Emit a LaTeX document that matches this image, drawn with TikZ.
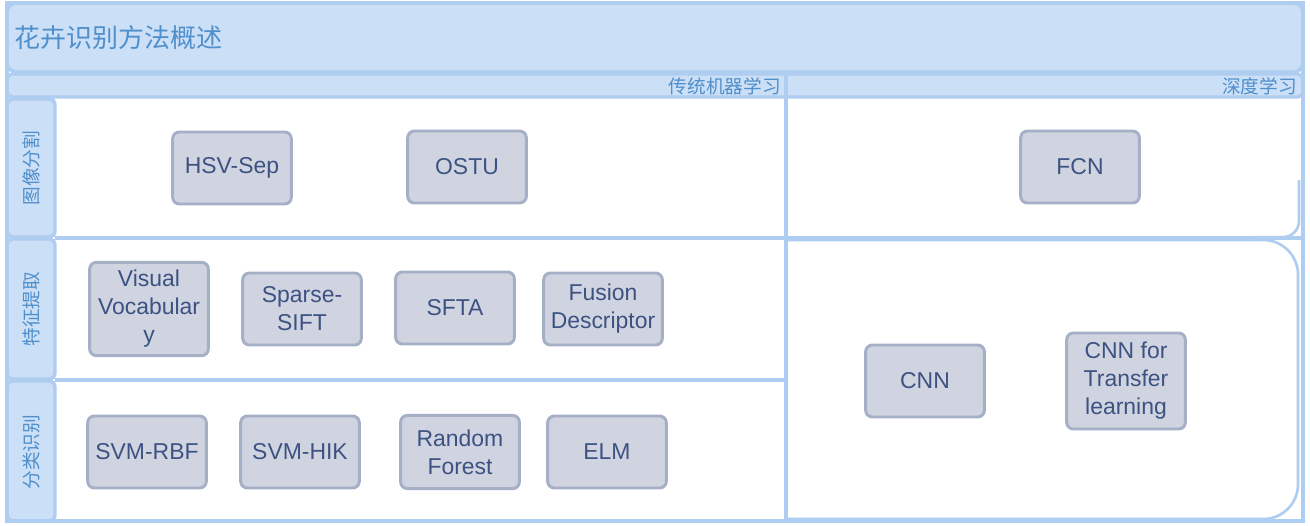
\documentclass[tikz,border=0pt]{standalone}
\usepackage{fontspec}
\setmainfont{Liberation Sans}
\newfontfamily\cjk{Noto Sans CJK SC}
\definecolor{bandfill}{HTML}{CBDFF6}
\definecolor{bandline}{HTML}{AECDF0}
\definecolor{titlecol}{HTML}{4F8FCC}
\definecolor{boxfill}{HTML}{D0D4E0}
\definecolor{boxline}{HTML}{A5AFC6}
\definecolor{boxtext}{HTML}{3C5282}
\begin{document}
\begin{tikzpicture}[x=0.75pt,y=-0.75pt,
  band/.style={draw=bandline,fill=bandfill,line width=2.6pt,rounded corners=4pt},
  sep/.style={draw=bandline,line width=2.6pt},
  item/.style={draw=boxline,fill=boxfill,line width=2.2pt,rounded corners=5pt,
    minimum width=89pt,minimum height=54pt,align=center,text=boxtext,
    font=\fontsize{17.2}{21}\selectfont,inner sep=1pt},
  hdr/.style={text=titlecol,font=\cjk\fontsize{14}{16}\selectfont,inner sep=0pt},
  rowlab/.style={text=titlecol,font=\cjk\fontsize{14}{16}\selectfont,rotate=90,inner sep=0pt}]
\useasboundingbox (0,0) rectangle (1310,525);
% bands
\path[band,rounded corners=7pt] (7,3) rectangle (1303,72);
\path[band] (7,74) rectangle (1303,97);
\path[band] (7,99) rectangle (55,237);
\path[band] (7,239) rectangle (55,379);
\path[band] (7,381) rectangle (55,521);
% outer frame and separators
\draw[sep] (7,3) rectangle (1303,521);
\draw[sep] (786,74) -- (786,521);
\draw[sep] (55,238) -- (1303,238);
\draw[sep] (55,380) -- (786,380);
\draw[sep,line width=2pt,rounded corners=26pt] (786,240) -- (1298,240) -- (1298,519) -- (786,519);
\draw[sep,line width=2pt,rounded corners=12pt] (1299,180) -- (1299,237) -- (1150,238);
% texts
\node[anchor=west,text=titlecol,font=\cjk\fontsize{19.5}{22}\selectfont,inner sep=0pt] (title) at (14,38) {花卉识别方法概述};
\node[hdr,anchor=east] (trad) at (781,86) {传统机器学习};
\node[hdr,anchor=east] (deep) at (1297,86) {深度学习};
\node[rowlab] (r1) at (31,168) {图像分割};
\node[rowlab] (r2) at (31,309) {特征提取};
\node[rowlab] (r3) at (31,452) {分类识别};
% items
\node[item] (hsv) at (232,168) {HSV-Sep};
\node[item] (ostu) at (467,167) {OSTU};
\node[item] (fcn) at (1080,167) {FCN};
\node[item,minimum height=70pt] (vv) at (149,309) {Visual\\Vocabular\\y};
\node[item] (ss) at (302,309) {Sparse-\\SIFT};
\node[item] (sfta) at (455,308) {SFTA};
\node[item] (fd) at (603,309) {Fusion\\Descriptor};
\node[item] (cnn) at (925,381) {CNN};
\node[item,minimum height=72pt] (cnnt) at (1126,381) {CNN for\\Transfer\\learning};
\node[item] (svmr) at (147,452) {SVM-RBF};
\node[item] (svmh) at (300,452) {SVM-HIK};
\node[item,minimum height=55pt] (rf) at (460,452) {Random\\Forest};
\node[item] (elm) at (607,452) {ELM};
\end{tikzpicture}
\end{document}
